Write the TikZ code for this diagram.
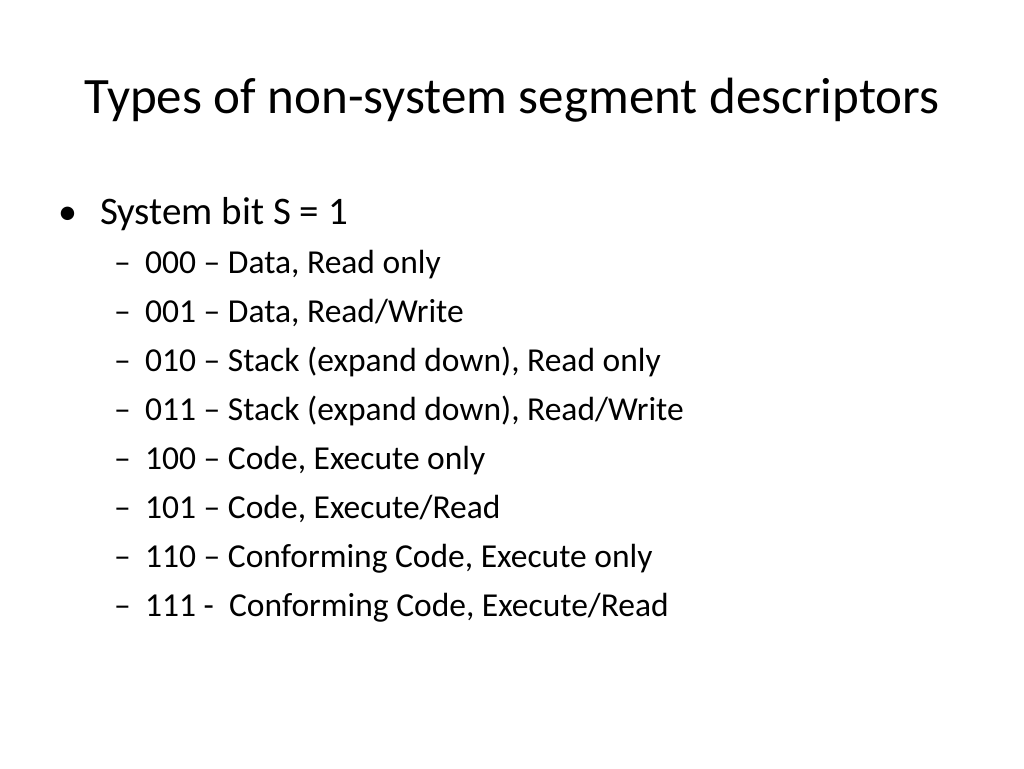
\documentclass[tikz,border=0pt]{standalone}
\usepackage{fontspec}
\setmainfont{Carlito}
\begin{document}
\begin{tikzpicture}[x=1pt,y=-1pt,
  sub/.style={anchor=base west,inner sep=0pt,font=\fontsize{33.5}{36}\selectfont},
  dsh/.style={anchor=base west,inner sep=0pt,font=\fontsize{33.5}{36}\selectfont}]
\useasboundingbox (0,0) rectangle (1024,768);
\node[anchor=base,inner sep=0pt,font=\fontsize{51}{56}\selectfont] (title) at (512,113) {Types of non-system segment descriptors};
\node[anchor=base west,inner sep=0pt,font=\fontsize{38}{42}\selectfont] (b) at (58,224) {•};
\node[anchor=base west,inner sep=0pt,font=\fontsize{39}{42}\selectfont] (s) at (100,224) {System bit S = 1};
\foreach \t [count=\i from 0] in {{000 – Data, Read only},{001 – Data, Read/Write},{010 – Stack (expand down), Read only},{011 – Stack (expand down), Read/Write},{100 – Code, Execute only},{101 – Code, Execute/Read},{110 – Conforming Code, Execute only},{111 -\ \ Conforming Code, Execute/Read}}{
  \node[dsh] (d\i) at (114,{273+49*\i}) {–};
  \node[sub] (t\i) at (145,{273+49*\i}) {\t};
}
\end{tikzpicture}
\end{document}
